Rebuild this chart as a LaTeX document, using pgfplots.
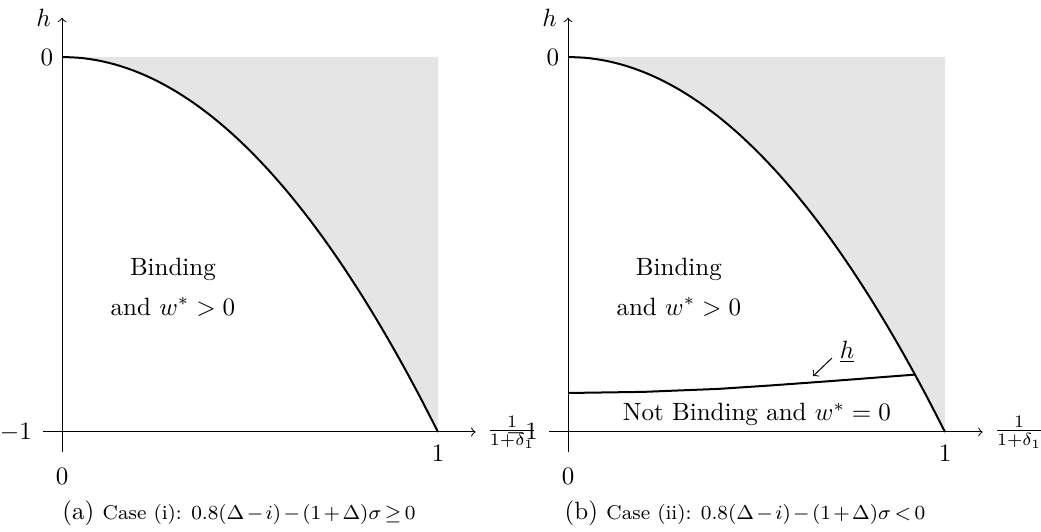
\documentclass[border=0pt]{standalone}
\usepackage{pgfplots}
\pgfplotsset{compat=1.18}
\pgfplotsset{
  panel/.style={
    x=150.4pt, y=150pt,
    xmin=0, xmax=1.1, ymin=-1, ymax=0.105,
    axis x line=bottom, axis y line=left,
    axis line style={-to, line width=0.4pt},
    xtick={1}, ytick={0},
    extra x ticks={0}, extra y ticks={-1},
    extra x tick style={xticklabel style={yshift=-9pt}},
    extra y tick style={yticklabel style={xshift=-8.5pt}},
    xticklabel style={yshift=-2pt},
    major tick length=0pt,
    xlabel={$\frac{1}{1+\delta_1}$},
    ylabel={$h$},
    every axis x label/.style={at={(axis description cs:1,0)}, anchor=west, xshift=1pt},
    every axis y label/.style={at={(axis description cs:0,1)}, anchor=east, xshift=-1pt},
    clip=false,
    anchor=south west,
  }
}
\begin{document}
\begin{tikzpicture}
\useasboundingbox (0pt,0pt) rectangle (416.4pt,-212.8pt);
% ---------------- panel (a)
\begin{axis}[panel, at={(24.8pt,-172.8pt)}]
\addplot[fill=gray!20, draw=none] coordinates {(0,0) (0.05,-0.0025) (0.1,-0.01) (0.15,-0.0225) (0.2,-0.04) (0.25,-0.0625) (0.3,-0.09) (0.35,-0.1225) (0.4,-0.16) (0.45,-0.2025) (0.5,-0.25) (0.55,-0.3025) (0.6,-0.36) (0.65,-0.4225) (0.7,-0.49) (0.75,-0.5625) (0.8,-0.64) (0.85,-0.7225) (0.9,-0.81) (0.95,-0.9025) (1,-1) (1,0)} --cycle;
\addplot[black, line width=0.8pt, smooth] coordinates {(0,0) (0.05,-0.0025) (0.1,-0.01) (0.15,-0.0225) (0.2,-0.04) (0.25,-0.0625) (0.3,-0.09) (0.35,-0.1225) (0.4,-0.16) (0.45,-0.2025) (0.5,-0.25) (0.55,-0.3025) (0.6,-0.36) (0.65,-0.4225) (0.7,-0.49) (0.75,-0.5625) (0.8,-0.64) (0.85,-0.7225) (0.9,-0.81) (0.95,-0.9025) (1,-1)};
\draw[line width=0.4pt] (axis cs:-0.0505,-1) -- (axis cs:0,-1);
\draw[line width=0.4pt] (axis cs:0,-1.053) -- (axis cs:0,-1);
\node[align=center] at (axis cs:0.295,-0.613) {Binding\\[4pt]and $w^*>0$};
\end{axis}
% ---------------- panel (b)
\begin{axis}[panel, at={(227.2pt,-172.8pt)}, x=150.8pt]
\addplot[fill=gray!20, draw=none] coordinates {(0,0) (0.05,-0.0025) (0.1,-0.01) (0.15,-0.0225) (0.2,-0.04) (0.25,-0.0625) (0.3,-0.09) (0.35,-0.1225) (0.4,-0.16) (0.45,-0.2025) (0.5,-0.25) (0.55,-0.3025) (0.6,-0.36) (0.65,-0.4225) (0.7,-0.49) (0.75,-0.5625) (0.8,-0.64) (0.85,-0.7225) (0.9,-0.81) (0.95,-0.9025) (1,-1) (1,0)} --cycle;
\addplot[black, line width=0.8pt, smooth] coordinates {(0,0) (0.05,-0.0025) (0.1,-0.01) (0.15,-0.0225) (0.2,-0.04) (0.25,-0.0625) (0.3,-0.09) (0.35,-0.1225) (0.4,-0.16) (0.45,-0.2025) (0.5,-0.25) (0.55,-0.3025) (0.6,-0.36) (0.65,-0.4225) (0.7,-0.49) (0.75,-0.5625) (0.8,-0.64) (0.85,-0.7225) (0.9,-0.81) (0.95,-0.9025) (1,-1)};
\addplot[black, line width=0.8pt] coordinates {(0,-0.896) (0.2,-0.893) (0.4,-0.885) (0.536,-0.876) (0.7,-0.864) (0.92,-0.847)};
\draw[line width=0.4pt] (axis cs:-0.0505,-1) -- (axis cs:0,-1);
\draw[line width=0.4pt] (axis cs:0,-1.053) -- (axis cs:0,-1);
\draw[->, line width=0.4pt] (axis cs:0.700,-0.803) -- (axis cs:0.650,-0.851);
\node at (axis cs:0.740,-0.787) {$\underline{h}$};
\node[align=center] at (axis cs:0.294,-0.613) {Binding\\[4pt]and $w^*>0$};
\node at (axis cs:0.501,-0.952) {Not Binding and $w^*=0$};
\end{axis}
% captions
\node at (95.6pt,-205.2pt) {(a) {\footnotesize\medmuskip=2mu\thickmuskip=3mu Case (i): $0.8(\Delta-i)-(1+\Delta)\sigma\geq 0$}};
\node at (298pt,-205.2pt) {(b) {\footnotesize\medmuskip=2mu\thickmuskip=3mu Case (ii): $0.8(\Delta-i)-(1+\Delta)\sigma<0$}};
\end{tikzpicture}
\end{document}
